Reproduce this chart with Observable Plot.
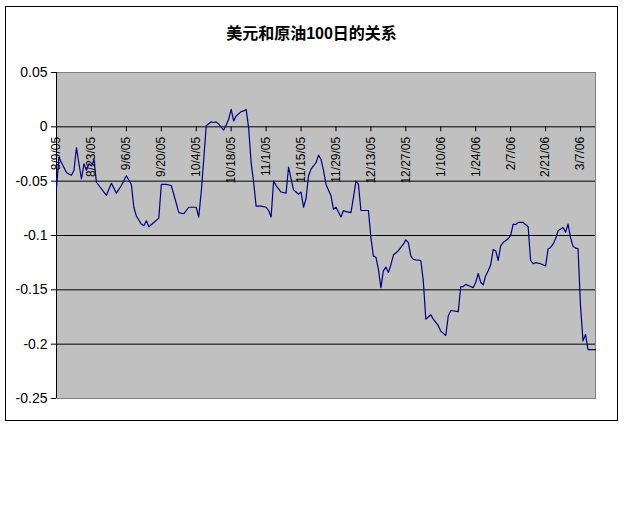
<!DOCTYPE html>
<html><head><meta charset="utf-8">
<script src="https://cdn.jsdelivr.net/npm/d3@7"></script>
<script src="https://cdn.jsdelivr.net/npm/@observablehq/plot@0.6"></script>
<style>
body{margin:0;background:#fff;}
#wrap{position:relative;width:640px;height:512px;overflow:hidden;}
#border{position:absolute;left:5px;top:6px;width:613px;height:415px;border:1px solid #000;box-sizing:border-box;}
#title{position:absolute;left:5px;width:613px;top:20px;text-align:center;font:bold 16px "Liberation Sans","Noto Sans CJK SC",sans-serif;color:#000;}
#chart{position:absolute;left:0;top:0;}
</style></head><body>
<div id="wrap"><div id="border"></div><div id="title">美元和原油100日的关系</div><div id="chart"></div></div>
<script>
const dates = [
"2005-08-09","2005-08-10","2005-08-11","2005-08-13","2005-08-14","2005-08-15","2005-08-16","2005-08-17","2005-08-18","2005-08-19",
"2005-08-20","2005-08-21","2005-08-22","2005-08-23","2005-08-24","2005-08-25","2005-08-29","2005-08-31","2005-09-02","2005-09-04",
"2005-09-06","2005-09-08","2005-09-09","2005-09-10","2005-09-12","2005-09-13","2005-09-14","2005-09-15","2005-09-17","2005-09-19",
"2005-09-20","2005-09-22","2005-09-24","2005-09-26","2005-09-27","2005-09-29","2005-09-30","2005-10-01","2005-10-03","2005-10-04",
"2005-10-05","2005-10-06","2005-10-07","2005-10-08","2005-10-10","2005-10-11","2005-10-12","2005-10-13","2005-10-15","2005-10-16",
"2005-10-17","2005-10-18","2005-10-19","2005-10-20","2005-10-22","2005-10-23","2005-10-24","2005-10-25","2005-10-26","2005-10-27",
"2005-10-28","2005-10-30","2005-11-01","2005-11-02","2005-11-03","2005-11-04","2005-11-05","2005-11-07","2005-11-09","2005-11-10",
"2005-11-11","2005-11-12","2005-11-13","2005-11-14","2005-11-15","2005-11-16","2005-11-17","2005-11-18","2005-11-19","2005-11-21",
"2005-11-22","2005-11-23","2005-11-24","2005-11-25","2005-11-27","2005-11-28","2005-11-29","2005-12-01","2005-12-02","2005-12-03",
"2005-12-05","2005-12-06","2005-12-07","2005-12-08","2005-12-09","2005-12-12","2005-12-13","2005-12-14","2005-12-15","2005-12-16",
"2005-12-17","2005-12-18","2005-12-19","2005-12-20","2005-12-21","2005-12-22","2005-12-24","2005-12-26","2005-12-27","2005-12-28",
"2005-12-29","2005-12-30","2005-12-31","2006-01-02","2006-01-03","2006-01-04","2006-01-06","2006-01-07","2006-01-09","2006-01-10",
"2006-01-12","2006-01-13","2006-01-14","2006-01-17","2006-01-18","2006-01-19","2006-01-20","2006-01-21","2006-01-23","2006-01-24",
"2006-01-25","2006-01-26","2006-01-27","2006-01-28","2006-01-29","2006-01-30","2006-01-31","2006-02-01","2006-02-02","2006-02-03",
"2006-02-04","2006-02-06","2006-02-07","2006-02-08","2006-02-09","2006-02-10","2006-02-12","2006-02-14","2006-02-15","2006-02-16",
"2006-02-17","2006-02-19","2006-02-21","2006-02-22","2006-02-23","2006-02-24","2006-02-25","2006-02-26","2006-02-28","2006-03-01",
"2006-03-02","2006-03-03","2006-03-04","2006-03-05","2006-03-06","2006-03-07","2006-03-08","2006-03-09","2006-03-10","2006-03-13"
];
const values = [
-0.056,-0.028,-0.033,-0.042,-0.0435,-0.0445,-0.040,-0.019,-0.034,-0.048,
-0.034,-0.040,-0.034,-0.036,-0.030,-0.051,-0.063,-0.052,-0.061,-0.054,
-0.045,-0.053,-0.074,-0.082,-0.0895,-0.091,-0.0865,-0.092,-0.088,-0.084,
-0.053,-0.053,-0.054,-0.0705,-0.079,-0.080,-0.077,-0.074,-0.074,-0.074,
-0.083,-0.060,-0.030,0.001,0.0046,0.004,0.0046,0.0025,-0.003,0.0016,
0.007,0.016,0.0055,0.010,0.014,0.0147,0.016,-0.001,-0.033,-0.051,
-0.073,-0.073,-0.074,-0.077,-0.083,-0.050,-0.054,-0.060,-0.061,-0.037,
-0.048,-0.058,-0.060,-0.062,-0.060,-0.074,-0.066,-0.045,-0.039,-0.033,
-0.026,-0.030,-0.040,-0.053,-0.0635,-0.076,-0.074,-0.083,-0.077,-0.078,
-0.079,-0.065,-0.050,-0.053,-0.077,-0.077,-0.102,-0.119,-0.120,-0.131,
-0.148,-0.1325,-0.129,-0.134,-0.127,-0.118,-0.114,-0.108,-0.104,-0.1065,
-0.119,-0.122,-0.1225,-0.123,-0.142,-0.177,-0.173,-0.177,-0.183,-0.188,
-0.192,-0.174,-0.169,-0.170,-0.147,-0.147,-0.145,-0.146,-0.148,-0.143,
-0.135,-0.143,-0.1455,-0.137,-0.1325,-0.127,-0.113,-0.114,-0.123,-0.1095,
-0.1065,-0.103,-0.100,-0.0895,-0.090,-0.088,-0.088,-0.092,-0.123,-0.126,
-0.125,-0.126,-0.128,-0.1125,-0.111,-0.108,-0.103,-0.0957,-0.0927,-0.097,
-0.0895,-0.102,-0.110,-0.1116,-0.112,-0.165,-0.197,-0.191,-0.205,-0.205
];
const xDomain = ["2005-08-09","2006-03-13"];
const xTickDates = ["2005-08-09","2005-08-23","2005-09-06","2005-09-20","2005-10-04","2005-10-18","2005-11-01","2005-11-15",
"2005-11-29","2005-12-13","2005-12-27","2006-01-10","2006-01-24","2006-02-07","2006-02-21","2006-03-07"];
const xTickLabels = ["8/9/05","8/23/05","9/6/05","9/20/05","10/4/05","10/18/05","11/1/05","11/15/05",
"11/29/05","12/13/05","12/27/05","1/10/06","1/24/06","2/7/06","2/21/06","3/7/06"];
const yTicks = [-0.25,-0.2,-0.15,-0.1,-0.05,0,0.05];
const yTickLabels = ["-0.25","-0.2","-0.15","-0.1","-0.05","0","0.05"];
const gridValues = [-0.2,-0.15,-0.1,-0.05,0];

const parse = d3.utcParse("%Y-%m-%d");
const data = dates.map((d, i) => ({date: parse(d), value: values[i]}));
const tickData = xTickDates.map((d, i) => ({date: parse(d), label: xTickLabels[i]}));

const chart = Plot.plot({
  width: 640, height: 512,
  marginLeft: 56, marginRight: 45, marginTop: 72, marginBottom: 114,
  x: {type: "utc", domain: xDomain.map(parse), axis: null},
  y: {domain: [-0.25, 0.05]},
  style: {background: "transparent", fontFamily: "'Liberation Sans', Arial, sans-serif", color: "#000"},
  marks: [
    Plot.frame({fill: "url(#excelDots)", stroke: "#808080"}),
    Plot.ruleY(gridValues, {stroke: "#000", strokeWidth: 1}),
    Plot.ruleX([parse(xDomain[0])], {stroke: "#000"}),
    Plot.axisY({ticks: yTicks, tickFormat: d => yTickLabels[yTicks.indexOf(d)], tickSize: 5, tickPadding: 4, fontSize: 14, label: null, stroke: "#000", fill: "#000"}),
    Plot.ruleX(tickData, {x: "date", y1: 0, y2: 0, insetBottom: -5, stroke: "#000"}),
    Plot.text(tickData, {x: "date", y: 0, text: "label", rotate: -90, textAnchor: "end", dy: 10, fontSize: 12, fill: "#000"}),
    Plot.line(data, {x: "date", y: "value", stroke: "#000080", strokeWidth: 1.2})
  ]
});
const svg = d3.select(chart);
const defs = svg.insert("defs", ":first-child");
const pat = defs.append("pattern").attr("id", "excelDots").attr("patternUnits", "userSpaceOnUse").attr("width", 2).attr("height", 2);
pat.append("rect").attr("width", 2).attr("height", 2).attr("fill", "#d0d0d0");
pat.append("rect").attr("width", 1).attr("height", 1).attr("fill", "#909090");
document.getElementById("chart").appendChild(chart);
</script>
</body></html>
